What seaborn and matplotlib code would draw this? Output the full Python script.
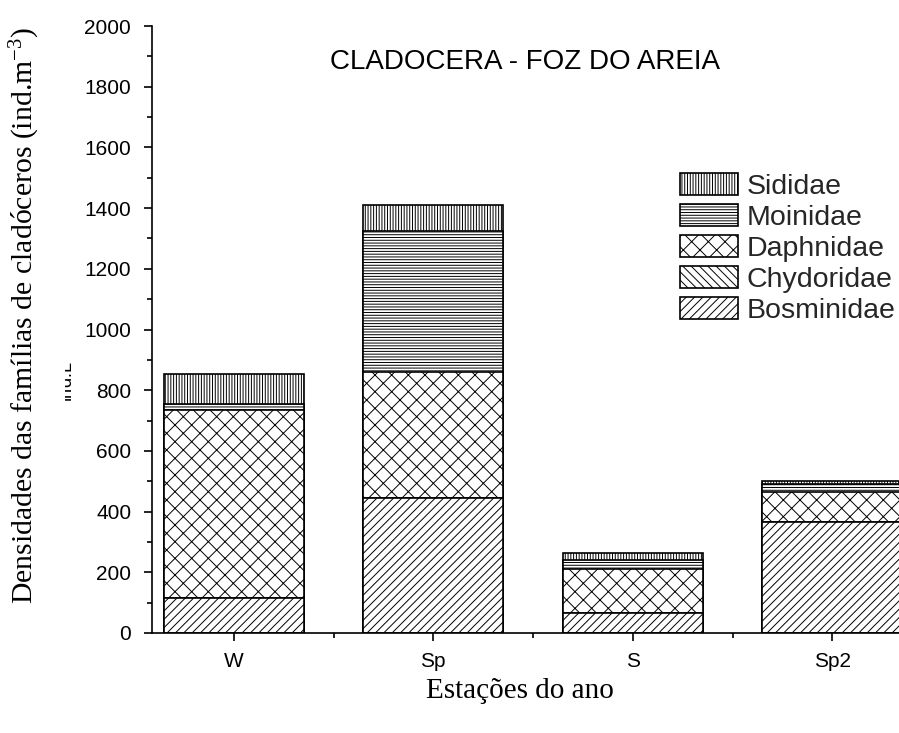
import numpy as np
import pandas as pd
import matplotlib
matplotlib.use("Agg")
import matplotlib.pyplot as plt
import seaborn as sns
from matplotlib.patches import Patch
from matplotlib.ticker import MultipleLocator, FixedLocator
from matplotlib.transforms import Bbox, TransformedBbox

# Cladocera family densities per season (ind.m-3)
seasons = ["W", "Sp", "S", "Sp2"]
bosminidae = [115, 445, 67, 366]
chydoridae = [0, 0, 0, 0]
daphnidae = [620, 416, 144, 99]
moinidae = [20, 464, 30, 25]
sididae = [98, 85, 24, 12]

families = ["Bosminidae", "Chydoridae", "Daphnidae", "Moinidae", "Sididae"]
hatches = ["////", "\\\\\\\\", "xx", "------", "||||||"]

sns.set_theme(style="ticks")
plt.rcParams["font.family"] = ["Liberation Sans", "DejaVu Sans"]
plt.rcParams["mathtext.fontset"] = "custom"
plt.rcParams["mathtext.rm"] = "Liberation Serif"
plt.rcParams["mathtext.it"] = "Liberation Serif:italic"
plt.rcParams["hatch.linewidth"] = 0.7
plt.rcParams["axes.linewidth"] = 1.2

df = pd.DataFrame({"season": seasons, "Bosminidae": bosminidae,
                   "Chydoridae": chydoridae, "Daphnidae": daphnidae,
                   "Moinidae": moinidae, "Sididae": sididae})
cum = df[families].cumsum(axis=1)

W, H = 899, 733
fig = plt.figure(figsize=(W / 100, H / 100), dpi=100)
ax_left, ax_bottom = 152 / W, 100 / H
ax_h = (633 - 26) / H
ax_w = 3.91 * 199.5 / W
ax = fig.add_axes([ax_left, ax_bottom, ax_w, ax_h])

# stacked bars: draw cumulative totals from the top layer down
for fam, hatch in reversed(list(zip(families, hatches))):
    sns.barplot(x=df["season"], y=cum[fam], color="white", saturation=1,
                edgecolor="black", linewidth=1.2, hatch=hatch,
                width=0.7, ax=ax)

ax.set_xlim(-0.41, 3.5)
ax.set_ylim(0, 2000)
ax.yaxis.set_major_locator(MultipleLocator(200))
ax.yaxis.set_minor_locator(MultipleLocator(100))
ax.xaxis.set_minor_locator(FixedLocator([0.5, 1.5, 2.5, 3.5]))
ax.tick_params(axis="both", which="major", direction="out", length=6,
               width=1.2, labelsize=15, color="black", labelcolor="black")
ax.tick_params(axis="y", which="major", pad=9)
ax.tick_params(axis="x", which="major", pad=8)
ax.tick_params(axis="both", which="minor", direction="out", length=3.5,
               width=1.2, color="black")
for s in ["top", "right"]:
    ax.spines[s].set_visible(False)
for s in ["left", "bottom"]:
    ax.spines[s].set_color("black")

ax.set_ylabel("Densidades das famílias de cladóceros (ind.m$^{\\mathrm{-3}}$)",
              family="Liberation Serif", fontsize=21.4, color="black")
ax.yaxis.set_label_coords(42 / W, 1 - 315 / H, transform=fig.transFigure)
ax.set_xlabel("Estações do ano", family="Liberation Serif", fontsize=21,
              color="black")
ax.xaxis.set_label_coords(520 / W, 1 - 678 / H, transform=fig.transFigure)

fig.text(525 / W, 1 - 62 / H, "CLADOCERA - FOZ DO AREIA", ha="center",
         va="center", fontsize=20, color="black")

# partially hidden unit label behind the axis title
ghost = fig.text(73 / W, 1 - 375 / H, "ind.L$^{-1}$", rotation=90,
                 rotation_mode="anchor", ha="center", va="baseline",
                 fontsize=13, color="black")
ghost.set_clip_box(TransformedBbox(Bbox.from_extents(65 / W, 0, 1, 1),
                                   fig.transFigure))
ghost.set_clip_on(True)

handles = [Patch(facecolor="white", edgecolor="black", linewidth=1.2,
                 hatch=h, label=f)
           for f, h in reversed(list(zip(families, hatches)))]
fig.legend(handles=handles, loc="upper left",
           bbox_to_anchor=(680 / W, 1 - 173 / H), frameon=False,
           fontsize=20.5, handlelength=2.05, handleheight=0.8,
           handletextpad=0.3, labelspacing=0.15, borderpad=0,
           borderaxespad=0)

fig.savefig("out.png", dpi=100)
